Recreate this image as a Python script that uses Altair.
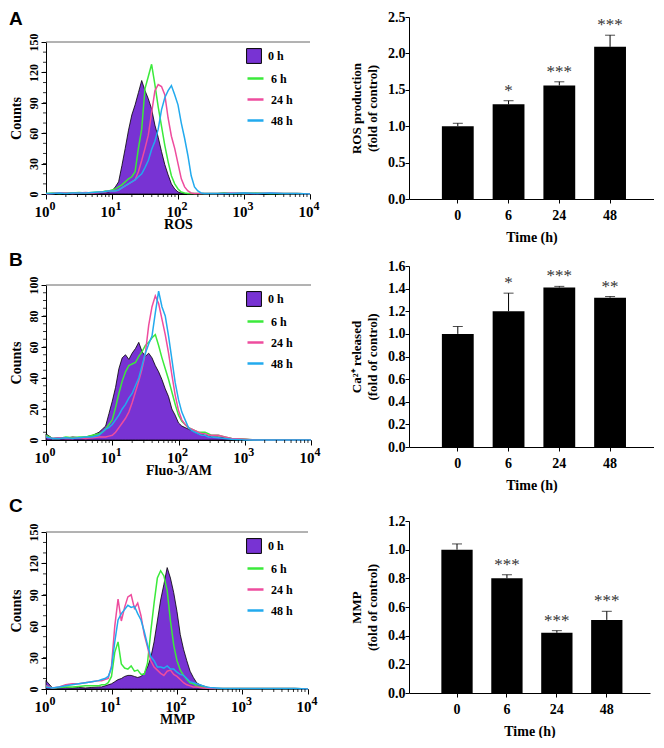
import altair as alt
import pandas as pd

SERIF = "Liberation Serif"
SANS = "Liberation Sans"
PURPLE = "#7833D3"
GREEN = "#3BEA3B"
PINK = "#EE4C9E"
BLUE = "#22AAEE"

SAMPLES = ["0 h", "6 h", "24 h", "48 h"]
TIME_LABELS = ["0", "6", "24", "48"]
DECADES = [1, 10, 100, 1000, 10000]
EXPONENTS = ["0", "1", "2", "3", "4"]
MINOR_X = [m * d for d in (1, 10, 100, 1000) for m in range(2, 10)]

# log10 fluorescence positions where histogram counts were read
LOGX = [0.0, 0.1, 0.2, 0.3, 0.4, 0.5, 0.6, 0.7, 0.8, 0.85, 0.9, 0.95,
        1.0, 1.05, 1.1, 1.15, 1.2, 1.25, 1.3, 1.35, 1.4, 1.45, 1.5, 1.55,
        1.6, 1.65, 1.7, 1.75, 1.8, 1.85, 1.9, 1.95, 2.0, 2.05, 2.1, 2.15,
        2.2, 2.25, 2.3, 2.35, 2.4, 2.45, 2.5,
        2.6, 2.7, 2.8, 3.0, 3.2, 3.4, 3.6, 3.8, 4.0]

# ---- Panel A: ROS histogram counts
A_0H = [0, 0.5, 1, 0.5, 1, 1, 1, 1.5, 1.5, 2, 2, 2,
        3, 7, 12, 28, 45, 63, 78, 88, 100, 112, 102, 94,
        84, 68, 56, 42, 29, 19, 10, 5, 2, 1, 0.5, 0.5,
        0.5, 0.5, 0.5, 0.5, 0.5, 0.5, 0.5,
        0.5, 1, 0.5, 1, 0.5, 0.5, 0.5, 0.5, 0]
A_6H = [0.5, 1, 0.5, 1, 1, 1.5, 1, 1.5, 2, 2, 3, 3,
        4, 5, 7, 9, 12, 15, 17, 22, 45, 64, 104, 116,
        128, 108, 86, 67, 48, 32, 18, 10, 5, 2, 1, 0.5,
        0.5, 0.5, 0.5, 0.5, 0.5, 0.5, 0.5,
        0.5, 1, 0.5, 0.5, 1, 0.5, 0.5, 0.5, 0]
A_24H = [0, 0.5, 1, 1, 0.5, 1, 1.5, 1, 1.5, 2, 2, 3,
         3, 3, 4, 6, 8, 10, 12, 14, 22, 33, 45, 58,
         80, 102, 108, 106, 98, 75, 57, 45, 30, 15, 7, 3,
         1, 0.5, 0.5, 0.5, 0.5, 0.5, 0.5,
         0.5, 0.5, 1, 0.5, 0.5, 1, 0.5, 0.5, 0]
A_48H = [0.5, 0.5, 1, 0.5, 1, 1, 1, 1.5, 2, 2, 2.5, 3,
         3, 3, 4, 6, 8, 10, 12, 14, 17, 20, 26, 33,
         44, 52, 64, 83, 95, 102, 107, 98, 88, 70, 55, 38,
         18, 7, 3, 1, 0.5, 0.5, 0.5,
         0.5, 0.5, 0.5, 1, 0.5, 1, 0.5, 0.5, 0]

# ---- Panel B: Fluo-3/AM histogram counts
B_0H = [4, 1, 1.5, 1, 2, 1.5, 2, 3, 5, 7, 9, 17,
        25, 34, 46, 53, 55, 52, 56, 59, 63, 57, 54, 56,
        53, 48, 44, 39, 33, 28, 20, 16, 11, 9, 8, 7,
        6, 5, 4, 4, 3, 3, 2,
        2, 1.5, 1, 0.5, 0, 0, 0, 0, 0]
B_6H = [3, 1, 1, 2, 1.5, 2, 2, 3, 4, 5, 7, 10,
        13, 21, 30, 38, 44, 48, 49, 50, 54, 57, 61, 63,
        66, 68, 61, 53, 46, 39, 31, 23, 16, 12, 10, 8,
        7, 6, 5, 5, 5, 4, 3,
        3, 2, 1, 0.5, 0, 0, 0, 0, 0]
B_24H = [2, 1, 1.5, 1, 1, 1.5, 1, 1.5, 2, 2, 2, 2.5,
         3, 5, 8, 11, 14, 18, 24, 31, 38, 46, 56, 74,
         86, 93, 88, 78, 68, 56, 42, 29, 19, 13, 10, 8,
         7, 6, 5, 4, 4, 3, 3,
         3, 2, 1, 0.5, 0, 0, 0, 0, 0]
B_48H = [2, 1, 1, 1.5, 1, 1.5, 2, 2, 3, 5, 7, 8,
         10, 13, 16, 20, 23, 27, 30, 35, 40, 48, 56, 62,
         67, 82, 96, 86, 80, 67, 52, 37, 26, 18, 13, 8,
         6, 5, 4, 3, 3, 2, 2,
         1.5, 1, 0.5, 0, 0, 0, 0, 0, 0]

# ---- Panel C: MMP histogram counts
C_0H = [8, 1, 1, 1.5, 1, 1.5, 1, 1.5, 2, 2, 3, 4,
        5, 7, 9, 10, 12, 13, 13, 12, 11, 12, 15, 21,
        30, 45, 65, 85, 100, 116, 106, 92, 74, 52, 38, 27,
        17, 11, 6, 4, 3, 2, 1,
        0.5, 0.5, 0.5, 0.5, 0.5, 0.5, 0.5, 0.5, 0]
C_6H = [3, 1, 1.5, 2, 2, 2.5, 3, 3, 3, 4, 4, 6,
        12, 35, 45, 24, 20, 19, 22, 17, 18, 14, 14, 25,
        55, 82, 106, 113, 108, 94, 65, 42, 27, 18, 13, 9,
        6, 5, 3, 2, 2, 1, 1,
        0.5, 0.5, 0.5, 0.5, 0.5, 0.5, 0.5, 0.5, 0]
C_24H = [3, 1, 2, 4, 5, 5, 6, 7, 8, 8, 9, 10,
         22, 60, 86, 65, 78, 88, 90, 77, 82, 70, 52, 40,
         27, 21, 18, 15, 13, 17, 18, 14, 12, 9, 6, 4,
         3, 2, 2, 1.5, 1, 1, 0.5,
         0.5, 0.5, 0.5, 0.5, 0.5, 0.5, 0.5, 0.5, 0]
C_48H = [2, 1, 2, 3, 4, 5, 6, 7, 8, 9, 10, 12,
         20, 45, 66, 72, 76, 80, 78, 79, 72, 66, 55, 42,
         31, 27, 21, 21, 20, 22, 19, 19, 16, 14, 13, 10,
         7, 6, 5, 4, 3, 2, 1.5,
         1, 0.5, 0.5, 0.5, 0.5, 0.5, 0.5, 0.5, 0]

# ---- Bar charts (fold of control, mean and SD)
ROS_MEAN = [1.00, 1.30, 1.56, 2.09]
ROS_ERR = [0.04, 0.05, 0.05, 0.16]
ROS_STARS = ["", "*", "***", "***"]
CA_MEAN = [1.00, 1.20, 1.41, 1.32]
CA_ERR = [0.065, 0.16, 0.01, 0.01]
CA_STARS = ["", "*", "***", "**"]
MMP_MEAN = [1.00, 0.80, 0.42, 0.51]
MMP_ERR = [0.04, 0.025, 0.015, 0.06]
MMP_STARS = ["", "***", "***", "***"]


def histogram(letter, xtitle, series, ymax, ymajor, yminor, W, H, toff):
    recs = []
    for name, vals in zip(SAMPLES, series):
        for lx, c in zip(LOGX, vals):
            recs.append({"fl": 10 ** lx, "count": c, "sample": name})
    df = pd.DataFrame(recs)
    xs = alt.Scale(type="log", domain=[1, 10000])
    ys = alt.Scale(domain=[0, ymax])
    xax = alt.Axis(values=DECADES, labels=False, tickSize=5, title=xtitle,
                   titleFontSize=14, titlePadding=18)
    yax = alt.Axis(values=ymajor, labelAngle=270, labelAlign="center",
                   labelBaseline="bottom", labelPadding=1, tickSize=5,
                   labelFontSize=12, title="Counts", titleFontSize=14,
                   titlePadding=4)
    X = alt.X("fl:Q", scale=xs, axis=xax)
    Y = alt.Y("count:Q", scale=ys, axis=yax)

    area = alt.Chart(df).transform_filter(alt.datum.sample == "0 h").mark_area(
        stroke="black", strokeWidth=0.8, fillOpacity=1
    ).encode(
        x=X, y=Y,
        fill=alt.Fill("sample:N", scale=alt.Scale(domain=["0 h"], range=[PURPLE]),
                      legend=alt.Legend(title=None, orient="none", legendX=200, legendY=6,
                                        symbolType="square", symbolSize=220,
                                        symbolStrokeColor="black", symbolStrokeWidth=1,
                                        labelFont=SERIF, labelFontWeight="bold",
                                        labelFontSize=12, labelOffset=6, padding=0)),
    )
    lines = alt.Chart(df).transform_filter(alt.datum.sample != "0 h").mark_line(
        strokeWidth=1.5
    ).encode(
        x=X, y=Y,
        stroke=alt.Stroke("sample:N", scale=alt.Scale(domain=SAMPLES[1:], range=[GREEN, PINK, BLUE]),
                          legend=alt.Legend(title=None, orient="none", legendX=200, legendY=27,
                                            symbolType="stroke", symbolSize=256,
                                            symbolStrokeWidth=2.5, rowPadding=5,
                                            labelFont=SERIF, labelFontWeight="bold",
                                            labelFontSize=12, labelOffset=6, padding=0)),
    )
    minor_x = alt.Chart(pd.DataFrame({"fl": MINOR_X})).mark_rule(
        color="black", strokeWidth=0.8
    ).encode(x=X, y=alt.value(H), y2=alt.value(H + 3))
    minor_y = alt.Chart(pd.DataFrame({"count": yminor})).mark_rule(
        color="black", strokeWidth=0.8
    ).encode(y=Y, x=alt.value(0), x2=alt.value(-3))
    top = alt.Chart(pd.DataFrame({"a": [0]})).mark_rule(color="#666666", strokeWidth=1).encode(
        x=alt.value(0), x2=alt.value(W), y=alt.value(0))
    labs = pd.DataFrame({"fl": DECADES, "base": ["10"] * 5, "exp": EXPONENTS})
    base_txt = alt.Chart(labs).mark_text(
        align="right", baseline="alphabetic", dx=3.5, font=SERIF, fontWeight="bold",
        fontSize=15, color="black"
    ).encode(x=X, y=alt.value(H + 23), text="base:N")
    exp_txt = alt.Chart(labs).mark_text(
        align="left", baseline="alphabetic", dx=3.5, font=SERIF, fontWeight="bold",
        fontSize=12, color="black"
    ).encode(x=X, y=alt.value(H + 16), text="exp:N")
    return alt.layer(area, lines, minor_x, minor_y, top, base_txt, exp_txt).properties(
        width=W, height=H,
        title=alt.TitleParams(letter, anchor="start", font=SANS, fontSize=19,
                              fontWeight="bold", color="black", offset=toff),
    )


def barchart(means, errs, stars, ytitle, ymax, yvals, W, H, pad_title):
    df = pd.DataFrame({"time": TIME_LABELS, "mean": means, "err": errs, "star": stars})
    base = alt.Chart(df).transform_calculate(top="datum.mean + datum.err")
    xs = alt.Scale(paddingInner=0.373, paddingOuter=0.6, align=0.54)
    ys = alt.Scale(domain=[0, ymax])
    xax = alt.Axis(labelAngle=0, tickSize=4, labelPadding=5, labelFontSize=14,
                   title="Time (h)", titleFontSize=14, titlePadding=8)
    yax = alt.Axis(values=yvals, format=".1f", tickSize=4, labelPadding=0,
                   labelFontSize=14, title=ytitle, titleFontSize=13,
                   titlePadding=8, titleLineHeight=16)
    X = alt.X("time:N", sort=TIME_LABELS, scale=xs, axis=xax)
    bars = base.mark_bar(color="black").encode(
        x=X, y=alt.Y("mean:Q", scale=ys, axis=yax))
    err = base.mark_rule(color="black", strokeWidth=1).encode(
        x=X, y=alt.Y("mean:Q", scale=ys, axis=yax), y2="top:Q")
    cap = base.mark_tick(color="black", thickness=1, size=10, orient="horizontal").encode(
        x=X, y=alt.Y("top:Q", scale=ys, axis=yax))
    star = base.mark_text(baseline="bottom", dy=-1, font=SERIF, fontSize=17,
                          color="#333333").encode(
        x=X, y=alt.Y("top:Q", scale=ys, axis=yax), text="star:N")
    ch = alt.layer(bars, err, cap, star).properties(width=W, height=H)
    if pad_title > 0:
        ch = ch.properties(title=alt.TitleParams(".", fontSize=pad_title, color="#ffffff", offset=0))
    return ch


def spacer():
    return alt.Chart(pd.DataFrame({"a": [0]})).mark_rule(opacity=0).encode(
        x=alt.value(0), y=alt.value(0)).properties(width=1, height=1)


histA = histogram("A", "ROS", [A_0H, A_6H, A_24H, A_48H], 150,
                  [0, 30, 60, 90, 120, 150], list(range(10, 150, 10)), 264, 152, 4)
histB = histogram("B", "Fluo-3/AM", [B_0H, B_6H, B_24H, B_48H], 100,
                  [0, 20, 40, 60, 80, 100], list(range(5, 100, 5)), 265, 155, 6)
histC = histogram("C", "MMP", [C_0H, C_6H, C_24H, C_48H], 150,
                  [0, 30, 60, 90, 120, 150], list(range(10, 150, 10)), 262, 157, 7)

barA = barchart(ROS_MEAN, ROS_ERR, ROS_STARS, ["ROS production", "(fold of control)"],
                2.5, [0.0, 0.5, 1.0, 1.5, 2.0, 2.5], 245, 182, 0)
barB = barchart(CA_MEAN, CA_ERR, CA_STARS, ["Ca²⁺ released", "(fold of control)"],
                1.6, [0.0, 0.2, 0.4, 0.6, 0.8, 1.0, 1.2, 1.4, 1.6], 245, 181, 0)
barC = barchart(MMP_MEAN, MMP_ERR, MMP_STARS, ["MMP", "(fold of control)"],
                1.2, [0.0, 0.2, 0.4, 0.6, 0.8, 1.0, 1.2], 241, 172, 7)

ind = dict(fill="independent", stroke="independent")
hists = alt.vconcat(histA, histB, histC, spacing=19).resolve_scale(**ind).resolve_legend(**ind)
barsc = alt.vconcat(barA, barB, barC, spacing=15)
left_col = alt.vconcat(spacer(), hists, spacing=0).resolve_scale(**ind).resolve_legend(**ind)
right_col = alt.vconcat(spacer(), barsc, spacing=0)

chart = alt.hconcat(left_col, right_col, spacing=29).resolve_scale(**ind).resolve_legend(**ind).properties(
    padding={"left": 0, "top": 1, "right": 0, "bottom": 0}
).configure_view(stroke=None).configure_axis(
    grid=False, domainColor="black", tickColor="black", labelColor="black",
    titleColor="black", labelFont=SERIF, titleFont=SERIF,
    labelFontWeight="bold", titleFontWeight="bold", domainWidth=1, tickWidth=1
).configure_title(anchor="start")

chart.save("out.html", embed_options={"renderer": "svg", "actions": False})
